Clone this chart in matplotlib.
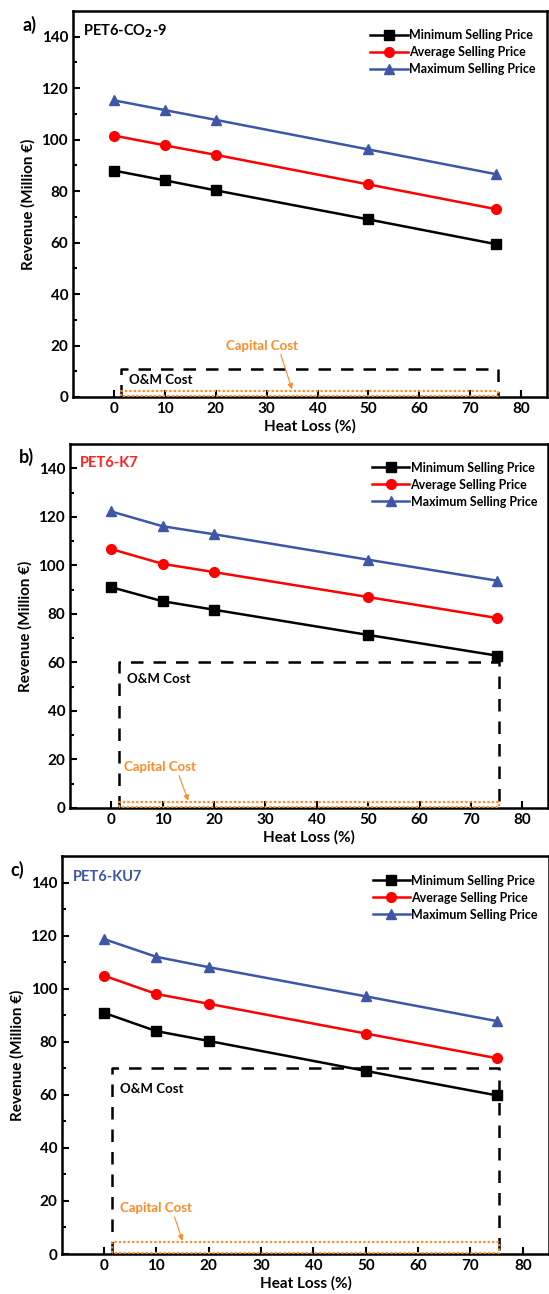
import matplotlib.pyplot as plt
import numpy as np

plt.rcParams['font.family'] = ['Lato', 'DejaVu Sans']
plt.rcParams['font.weight'] = 'bold'
plt.rcParams['axes.labelweight'] = 'bold'

# data
heat_loss = [0, 10, 20, 50, 75]

min_a = [88.0, 84.2, 80.3, 69.0, 59.4]
avg_a = [101.6, 97.8, 94.1, 82.6, 73.0]
max_a = [115.3, 111.5, 107.7, 96.2, 86.6]

min_b = [91.0, 85.2, 81.7, 71.3, 62.8]
avg_b = [106.7, 100.6, 97.2, 86.9, 78.3]
max_b = [122.2, 116.1, 112.8, 102.3, 93.7]

min_c = [90.9, 84.0, 80.3, 69.0, 59.8]
avg_c = [104.9, 98.0, 94.3, 83.1, 73.8]
max_c = [118.7, 112.0, 108.1, 97.1, 87.8]

cost_x = [1.5, 75.5]
om_cost = [11, 60, 70]
capital_cost = [2.5, 2.5, 4.5]

panel_tags = ['a)', 'b)', 'c)']
case_names = ['PET6-CO$_\\mathbf{2}$-9', 'PET6-K7', 'PET6-KU7']
series_names = ['Minimum Selling Price', 'Average Selling Price', 'Maximum Selling Price']

BLUE = '#3d56a8'
ORANGE = '#ff8a26'
case_colors = ['black', '#ff2020', BLUE]
series_colors = ['black', '#ff0000', BLUE]
markers = ['s', 'o', '^']

# axes boxes in figure fractions (left, bottom, width, height)
boxes = [(0.133, 0.6932, 0.863, 0.2983),
         (0.1275, 0.3756, 0.871, 0.2813),
         (0.113, 0.0309, 0.887, 0.3076)]
cap_text = [(22, 17.5), (2.5, 14.5), (3, 15)]
cap_arrow = [(35, 3.0), (15, 3.0), (15, 5.0)]
om_text_y = [6.5, 53, 62]

data = [(min_a, avg_a, max_a), (min_b, avg_b, max_b), (min_c, avg_c, max_c)]

fig = plt.figure(figsize=(5.49, 12.94), dpi=100)

for i in range(3):
    ax = fig.add_axes(boxes[i])
    for s in range(3):
        ax.plot(heat_loss, data[i][s], color=series_colors[s], marker=markers[s],
                markersize=7, lw=1.8, label=series_names[s], clip_on=False, zorder=5)

    # O&M cost box
    x0, x1 = cost_x
    ax.plot([x0, x0, x1, x1], [0, om_cost[i], om_cost[i], 0], color='black',
            lw=1.8, ls=(0, (5, 4)), zorder=3)
    # capital cost box
    ax.plot([x0, x0, x1, x1, x0], [0.4, capital_cost[i], capital_cost[i], 0.4, 0.4],
            color=ORANGE, lw=1.6, ls=(0, (1, 1)), zorder=4)
    ax.text(3, om_text_y[i], 'O&M Cost', fontsize=9.5, color='black', va='center')
    ax.annotate('Capital Cost', xy=cap_arrow[i], xytext=cap_text[i], color=ORANGE,
                fontsize=9.5, va='bottom',
                arrowprops=dict(arrowstyle='-|>', color=ORANGE, lw=0.8,
                                mutation_scale=8, shrinkA=0, shrinkB=0,
                                relpos=(0.75, 0)))

    ax.set_xlim(-8, 85)
    ax.set_ylim(0, 150)
    ax.set_xticks(np.arange(0, 81, 10))
    ax.set_yticks(np.arange(0, 141, 20))
    ax.set_yticks(np.arange(10, 141, 20), minor=True)
    ax.tick_params(direction='in', length=5, width=1.5, labelsize=11)
    ax.tick_params(which='minor', direction='in', length=3, width=1.5)
    for sp in ax.spines.values():
        sp.set_linewidth(1.8)
    ax.set_xlabel('Heat Loss (%)', fontsize=11, labelpad=2)
    ax.set_ylabel('Revenue (Million €)', fontsize=11, labelpad=4)

    ax.text(-6, 142, case_names[i], color=case_colors[i], fontsize=10.5,
            fontweight='bold', va='center')
    ax.text(-0.107, 0.965, panel_tags[i], transform=ax.transAxes, fontsize=13,
            fontweight='bold', va='center', ha='left')

    ax.legend(loc='upper right', frameon=False, fontsize=9, handlelength=3,
              handletextpad=0.1, labelspacing=0.4, borderaxespad=0.3,
              bbox_to_anchor=(0.995, 0.975))

fig.savefig('out.png', dpi=100)
